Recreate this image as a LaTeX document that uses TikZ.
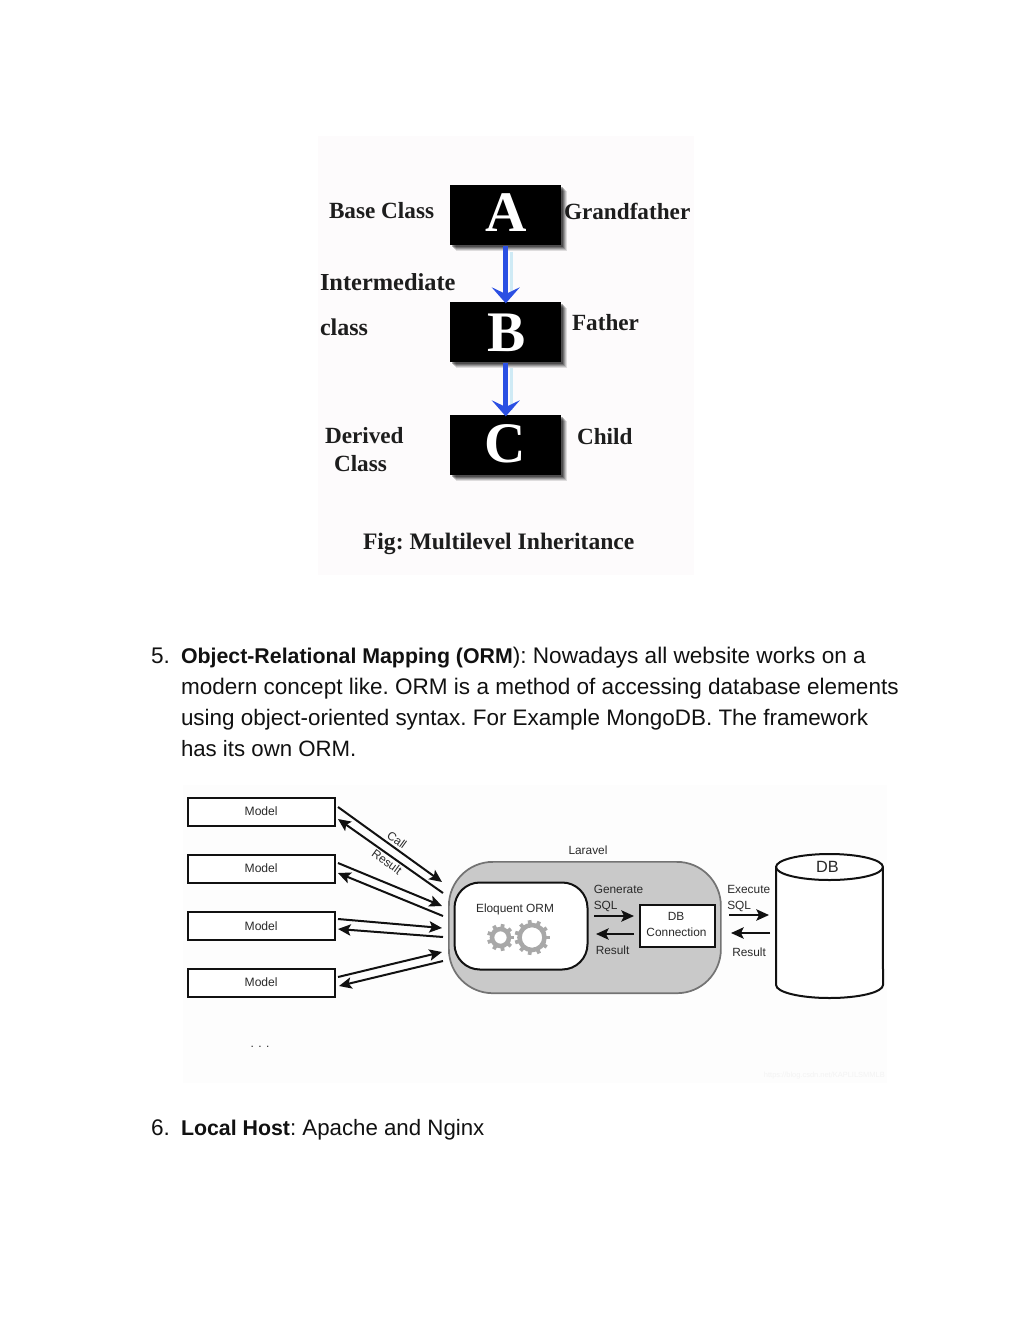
\documentclass[tikz,border=0pt]{standalone}
\usepackage{fontspec}
\setmainfont{Liberation Sans}
\newfontfamily\serifbold[BoldFont={Liberation Serif Bold}]{Liberation Serif}
\usetikzlibrary{arrows.meta,shapes.geometric,calc}
\definecolor{blueA}{HTML}{2B4FE3}
\definecolor{glow}{HTML}{CFEAF5}
\definecolor{bodyink}{HTML}{111111}
\definecolor{lab}{HTML}{2A2A2A}
\definecolor{ink}{HTML}{111111}
\definecolor{gearc}{HTML}{A8A8A8}
\definecolor{bgA}{HTML}{FDFBFC}
\definecolor{bgB}{HTML}{FDFDFD}
\definecolor{wmark}{HTML}{F3F3F3}
\newcommand{\bfx}[1]{{\fontsize{16}{20}\selectfont\textbf{#1}}}
\tikzset{
  x=0.75pt,y=-0.75pt,
  body/.style={anchor=base west,inner sep=0,outer sep=0,text=bodyink,font=\fontsize{16.95}{20}\selectfont\frenchspacing},
  sl/.style={inner sep=0,outer sep=0,text=ink!95,font=\fontsize{17.4}{20}\serifbold\bfseries\frenchspacing,anchor=base west},
  letter/.style={inner sep=0,text=white,font=\fontsize{43}{45}\serifbold\bfseries,anchor=center},
  blk/.style={fill=black,draw=none,inner sep=0,minimum width=83.25pt,minimum height=45pt,anchor=north west},
  blue/.style={draw=blueA,line width=3.5pt,-{Stealth[length=12pt,width=21pt,inset=5pt]},shorten >=-1pt},
  modelbox/.style={draw=ink,line width=1.5pt,fill=white,minimum width=110.5pt,minimum height=21pt,inner sep=0,anchor=north west,text=lab,font=\fontsize{9.1}{11}\selectfont},
  small/.style={inner sep=0,text=lab,font=\fontsize{8.9}{11}\selectfont},
  arr/.style={draw=ink,line width=1.5pt,-{Stealth[length=9.5pt,width=8.5pt,inset=2pt]}},
}
\begin{document}
\begin{tikzpicture}
\useasboundingbox (0,0) rectangle (1024,1325);
\fill[white] (0,0) rectangle (1024,1325);
% first figure
\fill[bgA] (318,136) rectangle (694,575);
\foreach \yy in {185,302,415}{
  \foreach \d/\o in {6/.12,5/.15,4/.2,3/.25,2/.3}{
    \fill[black,opacity=\o] (450+\d,\yy+\d) rectangle (561+\d,\yy+61-1+\d);
  }
}
\node[blk] (A) at (450,185) {};
\node[blk] (B) at (450,302) {};
\node[blk] (C) at (450,415) {};
\node[letter] (la) at (506,213) {A};
\node[letter] (lb) at (507,333) {B};
\node[letter] (lc) at (505,444) {C};
\draw[glow,line width=2.5pt] (511.5,252) -- (511.5,296);
\draw[glow,line width=2.5pt] (511.5,368) -- (511.5,410);
\draw[blue] (A.south) -- (B.north);
\draw[blue] (B.south) -- (C.north);
\node[sl] (t1) at (329,218) {Base Class};
\node[sl] (t2) at (564,219) {Grandfather};
\node[sl,font=\fontsize{18.3}{20}\serifbold\bfseries] (t3) at (320,290) {Intermediate};
\node[sl,font=\fontsize{18}{20}\serifbold\bfseries] (t4) at (320,335) {class};
\node[sl] (t5) at (572,330) {Father};
\node[sl] (t6) at (325,443) {Derived};
\node[sl] (t7) at (334,471) {Class};
\node[sl] (t8) at (577,444) {Child};
\node[sl,font=\fontsize{17.7}{20}\serifbold\bfseries\frenchspacing] (t9) at (363,549) {Fig: Multilevel Inheritance};
% text
\node[body] (n5) at (151,663.5) {5.};
\node[body] (p1) at (181,663.5) {\bfx{Object-Relational Mapping (ORM}): Nowadays all website works on a};
\node[body,font=\fontsize{16.9}{20}\selectfont\frenchspacing] (p2) at (181,694.5) {modern concept like. ORM is a method of accessing database elements};
\node[body,font=\fontsize{16.83}{20}\selectfont\frenchspacing] (p3) at (181,725) {using object-oriented syntax. For Example MongoDB. The framework};
\node[body,font=\fontsize{16.67}{20}\selectfont\frenchspacing] (p4) at (181,756) {has its own ORM.};
\node[body] (n6) at (151,1135.5) {6.};
\node[body,font=\fontsize{16.7}{20}\selectfont\frenchspacing] (p5) at (181,1135.5) {\bfx{Local Host}: Apache and Nginx};
% second figure
\fill[bgB] (183,785) rectangle (887,1083);
\node[modelbox] (m1) at (186.5,796.5) {Model\hspace{3pt}};
\node[modelbox] (m2) at (186.5,853.5) {Model\hspace{3pt}};
\node[modelbox] (m3) at (186.5,911) {Model\hspace{3pt}};
\node[modelbox] (m4) at (186.5,967.5) {Model\hspace{3pt}};
\node[inner sep=0,text=lab,font=\fontsize{9}{10}\selectfont] (dots) at (260,1047) {. . .};
\node[inner sep=0,text=wmark,font=\fontsize{5.6}{7}\selectfont,anchor=east] (wm) at (885,1076) {https://blog.csdn.net/KAPLILSMMLB};
\node[draw=black!55,line width=1.3pt,fill=black!21,rounded corners=33pt,minimum width=204pt,minimum height=98.5pt,inner sep=0,anchor=north west] (lar) at (448,861) {};
\node[small] (lart) at (588,850) {Laravel};
\node[draw=ink,line width=1.5pt,fill=white,rounded corners=19pt,minimum width=99.75pt,minimum height=65.25pt,inner sep=0,anchor=north west] (orm) at (453.5,881.5) {};
\node[small] (ormt) at (515,909) {Eloquent ORM};
% gears
\foreach \cx/\rr/\nn in {500.5/8.5/9,532/12.5/11}{
  \draw[gearc,line width=3.4pt] (\cx,937.5) circle[radius=\rr*0.75pt];
  \pgfmathsetmacro{\stepang}{360/\nn}
  \foreach \i in {1,...,\nn}{
    \draw[gearc,line width=2.8pt] ($(\cx,937.5)+({\i*\stepang}:{(\rr+1)*0.75pt})$) -- ($(\cx,937.5)+({\i*\stepang}:{(\rr+5)*0.75pt})$);
  }
}
\node[draw=ink,line width=1.5pt,fill=white,minimum width=56.5pt,minimum height=32pt,inner sep=0,anchor=north west] (dbc) at (638.5,903.5) {};
\node[small] (dbl1) at (676,916) {DB};
\node[small] (dbl2) at (676.5,932) {Connection};
\node[small,anchor=base west] (g1) at (593.5,893) {Generate};
\node[small,anchor=base west] (g2) at (593.5,909) {SQL};
\node[small,anchor=base west] (r1) at (595.5,954) {Result};
\node[small,anchor=base west] (e1) at (727,893) {Execute};
\node[small,anchor=base west] (e2) at (727,909) {SQL};
\node[small,anchor=base west] (r2) at (732,956) {Result};
% cylinder
\coordinate (cylL) at (776,867);
\coordinate (cylR) at (883,867);
\path[fill=white,draw=ink,line width=1.5pt] (cylL) arc[start angle=180,end angle=0,x radius=40.1pt,y radius=9.75pt] -- (883,985) arc[start angle=0,end angle=-180,x radius=40.1pt,y radius=9.75pt] -- cycle;
\draw[ink,line width=1.5pt] (cylL) arc[start angle=180,end angle=360,x radius=40.1pt,y radius=9.75pt];
\node[inner sep=0,text=lab,font=\fontsize{12.2}{14}\selectfont] (dbt) at (827.5,867) {DB};
% arrows
\coordinate (c1a) at (338,807); \coordinate (c1b) at (442,882);
\coordinate (r1a) at (443,893); \coordinate (r1b) at (338,819);
\coordinate (c2a) at (338,863); \coordinate (c2b) at (442,906);
\coordinate (r2a) at (443,916); \coordinate (r2b) at (338,873);
\coordinate (c3a) at (338,919); \coordinate (c3b) at (442,928);
\coordinate (r3a) at (443,937); \coordinate (r3b) at (338,929);
\coordinate (c4a) at (338,977); \coordinate (c4b) at (442,952);
\coordinate (r4a) at (443,961); \coordinate (r4b) at (339,986);
\foreach \i in {1,2,3,4}{
  \draw[arr] (c\i a) -- (c\i b);
  \draw[arr] (r\i a) -- (r\i b);
}
\node[small,rotate=-36] (call) at (397,840) {Call};
\node[small,rotate=-36] (res) at (387,862) {Result};
\coordinate (ga) at (594,916); \coordinate (gb) at (634,916);
\coordinate (ha) at (634,934); \coordinate (hb) at (596,934);
\coordinate (ia) at (729,915); \coordinate (ib) at (769,915);
\coordinate (ja) at (770,933); \coordinate (jb) at (731,933);
\draw[arr] (ga) -- (gb);
\draw[arr] (ha) -- (hb);
\draw[arr] (ia) -- (ib);
\draw[arr] (ja) -- (jb);
\end{tikzpicture}
\end{document}
